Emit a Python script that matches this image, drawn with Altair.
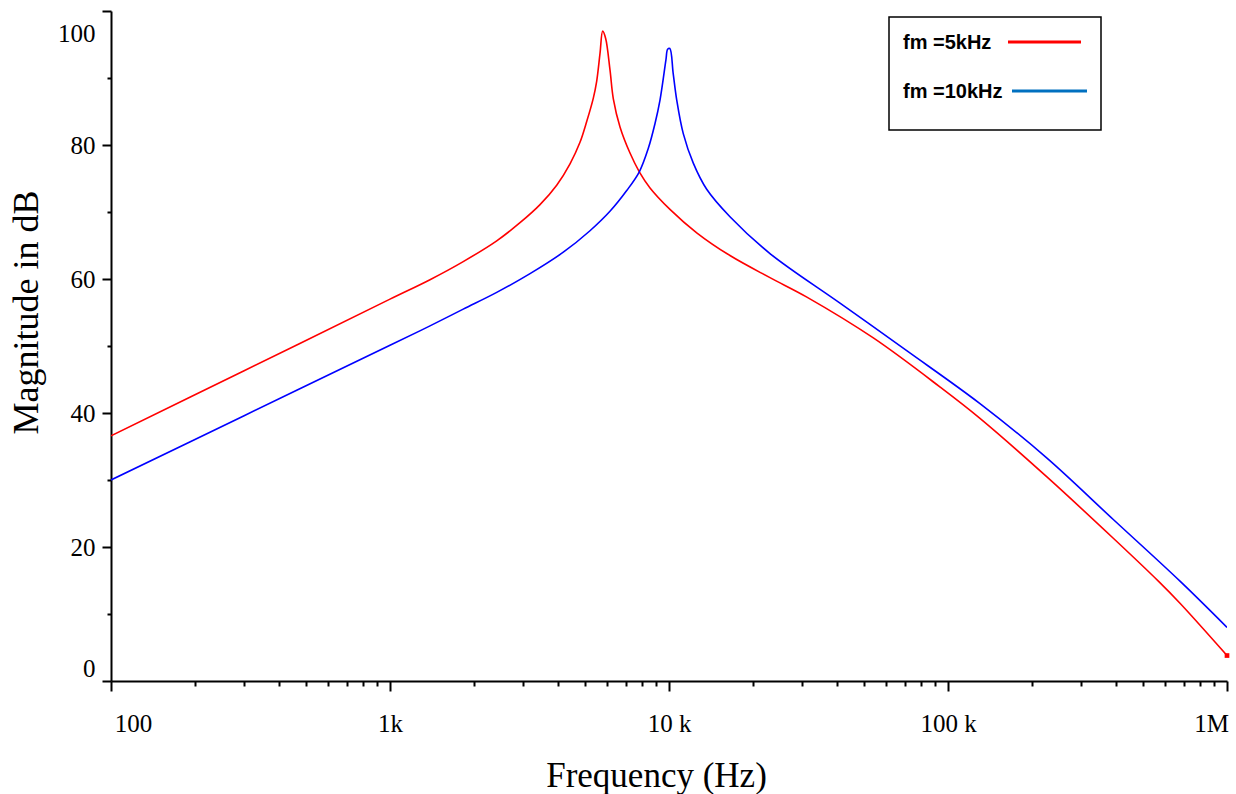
import altair as alt
import pandas as pd

# ---- data ----
freq_5k = [100, 300, 1000, 1391, 1830, 2413, 2924, 3449, 3958, 4418, 4797, 5070, 5355, 5505,
           5660, 5785, 5929, 6145, 6316, 6674, 7248, 7827, 8550, 10080, 12570, 16540, 23010,
           31200, 54000, 93500, 130200, 225700, 391300, 567500, 678500, 1000000]
db_5k = [36.6, 46.3, 57.0, 59.9, 62.6, 65.7, 68.4, 71.1, 74.0, 77.2, 80.4, 83.5, 87.0, 89.5,
         93.7, 97.0, 95.9, 91.2, 86.9, 82.7, 78.8, 76.0, 73.6, 70.4, 66.9, 63.5, 60.2,
         57.3, 51.2, 43.9, 39.2, 30.5, 21.3, 14.9, 11.6, 3.8]

freq_10k = [100, 300, 1000, 1391, 1830, 2413, 3176, 4180, 5210, 6143, 7054, 7827, 8431, 8910,
            9284, 9750, 9890, 10070, 10350, 10660, 11250, 12220, 13650, 16540, 23010, 41010,
            71120, 130200, 225800, 391300, 678500, 1000000]
db_10k = [30.0, 39.6, 50.1, 53.0, 55.5, 58.0, 60.8, 64.0, 67.2, 70.1, 73.2, 76.0, 79.5, 83.2,
          86.7, 92.7, 94.3, 94.4, 90.7, 86.7, 81.7, 77.3, 73.4, 69.3, 63.8, 56.4,
          49.3, 41.4, 33.3, 24.1, 14.9, 8.0]

series_names = ["fm =5kHz", "fm =10kHz"]
series_colors = ["#ff0000", "#0000ff"]
legend_line_colors = ["#ff0000", "#0070c0"]

x_major = [100, 1000, 10000, 100000, 1000000]
x_major_labels = ["100", "1k", "10 k", "100 k", "1M"]
y_major = [0, 20, 40, 60, 80, 100]
y_minor = [10, 30, 50, 70, 90]

# ---- build table ----
df = pd.concat([
    pd.DataFrame({"f": freq_5k, "db": db_5k, "s": series_names[0]}),
    pd.DataFrame({"f": freq_10k, "db": db_10k, "s": series_names[1]}),
])
end_df = pd.DataFrame({"f": [freq_5k[-1]], "db": [db_5k[-1]], "s": [series_names[0]]})

x_ticks = []
for d in x_major[:-1]:
    x_ticks += [d * k for k in range(1, 10)]
x_ticks.append(x_major[-1])

x_label_expr = ""
for v, lab in zip(x_major, x_major_labels):
    x_label_expr += f"datum.value == {v} ? '{lab}' : "
x_label_expr += "''"
x_major_arr = "[" + ",".join(str(v) for v in x_major) + "]"

FONT = "Liberation Serif"

x_axis = alt.Axis(
    values=x_ticks,
    labelExpr=x_label_expr,
    labelFont=FONT, labelFontSize=25, labelColor="black",
    labelFlush=False, labelOverlap=False,
    labelPadding=20,
    labelOffset={"condition": [
        {"test": "datum.value == 100", "value": 22},
        {"test": "datum.value == 1000000", "value": -16}], "value": 0},
    tickSize={"condition": {"test": f"indexof({x_major_arr}, datum.value) >= 0", "value": 10},
              "value": 5},
    tickColor="black", tickWidth=2,
    domainColor="black", domainWidth=2,
    grid=False,
    title="Frequency (Hz)", titleFont=FONT, titleFontSize=35, titleFontWeight="normal",
    titleColor="black", titleX=545, titleY=105, titleBaseline="alphabetic", titleAlign="center",
)

y_axis = alt.Axis(
    values=sorted(y_major + y_minor),
    labelExpr="datum.value % 20 == 0 ? datum.value : ''",
    labelFont=FONT, labelFontSize=25, labelColor="black",
    labelFlush=False, labelOverlap=False,
    labelPadding=7,
    labelOffset={"condition": [
        {"test": "datum.value == 100", "value": 22},
        {"test": "datum.value == 0", "value": -13}], "value": 0},
    tickSize={"condition": {"test": "datum.value % 20 == 0", "value": 9}, "value": 4},
    tickColor="black", tickWidth=2,
    domainColor="black", domainWidth=2,
    grid=False,
    title="Magnitude in dB", titleFont=FONT, titleFontSize=36, titleFontWeight="normal",
    titleColor="black", titleX=-74, titleY=301, titleBaseline="alphabetic", titleAlign="center",
    titleAngle=270,
)

x_enc = alt.X("f:Q", scale=alt.Scale(type="log", domain=[100, 1000000], nice=False), axis=x_axis)
y_enc = alt.Y("db:Q", scale=alt.Scale(domain=[0, 100], nice=False), axis=y_axis)
c_enc = alt.Color("s:N", scale=alt.Scale(domain=series_names, range=series_colors), legend=None)

lines = alt.Chart(df).mark_line(strokeWidth=1.6, interpolate="catmull-rom", clip=True).encode(
    x=x_enc, y=y_enc, color=c_enc, detail="s:N",
)

end_mark = alt.Chart(end_df).mark_square(size=22, opacity=1, filled=True).encode(
    x="f:Q", y="db:Q",
    color=alt.Color("s:N", scale=alt.Scale(domain=series_names, range=series_colors), legend=None),
)

one = alt.Data(values=[{"k": 0}])

legend_box = alt.Chart(one).mark_rect(fill="white", stroke="black", strokeWidth=1.5).encode(
    x=alt.value(778), x2=alt.value(990), y=alt.value(6), y2=alt.value(119))

legend_layers = [legend_box]
legend_rows_y = [32, 81]
legend_line_x = [(897, 970), (901, 976)]
for name, col, yy, (xa, xb) in zip(series_names, legend_line_colors, legend_rows_y, legend_line_x):
    legend_layers.append(
        alt.Chart(one).mark_text(text=name, font="Liberation Sans", fontWeight="bold",
                                 fontSize=20, align="left", baseline="middle", color="black")
        .encode(x=alt.value(792), y=alt.value(yy)))
    legend_layers.append(
        alt.Chart(one).mark_rule(color=col, strokeWidth=3)
        .encode(x=alt.value(xa), x2=alt.value(xb), y=alt.value(yy - 1)))

chart = alt.layer(lines, end_mark, *legend_layers).properties(
    width=1116, height=670,
    autosize=alt.AutoSizeParams(type="none"),
    padding={"left": 111, "top": 11, "right": 9, "bottom": 113},
    background="white",
).configure_view(stroke=None)

chart.save("out.html", embed_options={"renderer": "svg", "actions": False})
